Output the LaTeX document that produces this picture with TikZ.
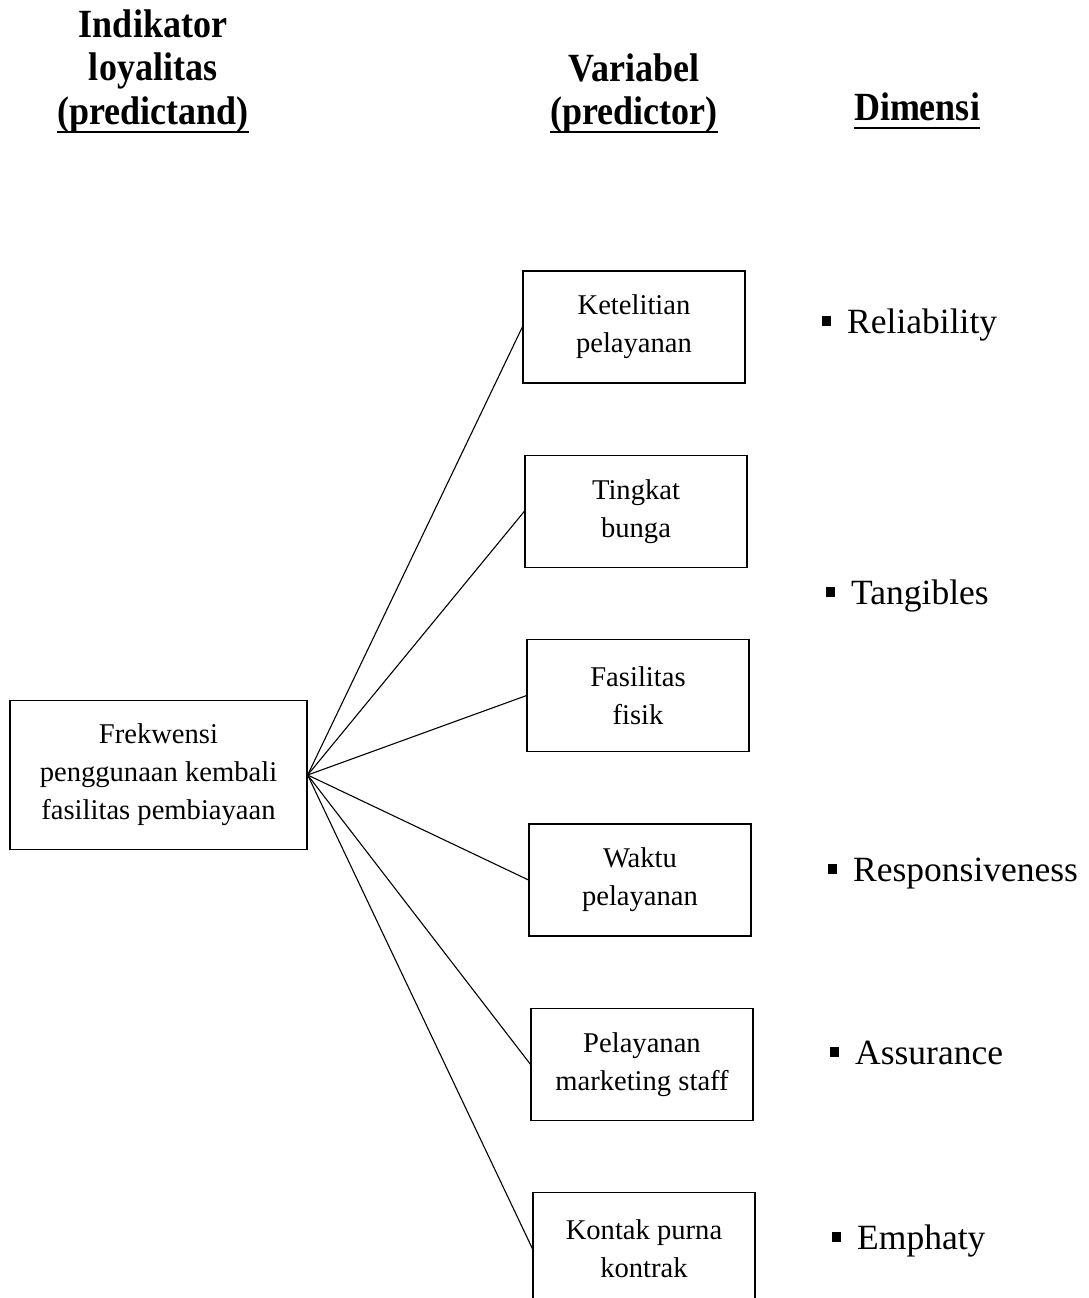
\documentclass[tikz,border=0pt]{standalone}
\usepackage{fontspec}
\setmainfont{Liberation Serif}
\newfontfamily\headfont[FakeStretch=0.9]{Liberation Serif}
\usetikzlibrary{positioning}
\newcommand{\dimbullet}{\rule[7pt]{9pt}{10pt}\hspace{16pt}}
\newcommand{\headul}[1]{\vtop{\hbox{\strut#1}\kern-6pt\hrule height 2.5pt}}
\tikzset{
  box/.style     = {rectangle, draw, line width=1.3pt, align=center, inner sep=2pt,
                    font=\fontsize{28.6}{38}\selectfont},
  varbox/.style  = {box, minimum width=222pt, minimum height=112pt},
  predbox/.style = {box, minimum width=297pt, minimum height=149pt},
  head/.style    = {align=center, inner sep=0pt,
                    font=\headfont\bfseries\fontsize{40}{43}\selectfont},
  dim/.style     = {anchor=base west, inner sep=0pt, font=\fontsize{35.5}{40}\selectfont},
  link/.style    = {line width=1.1pt},
}
\begin{document}
\begin{tikzpicture}[x=1pt, y=-1pt, node distance=71pt]
\useasboundingbox (0,0) rectangle (1088,1298);

% column heads
\node[head, anchor=base] (hpredictand) at (153,124) {Indikator\\loyalitas\\\headul{(predictand)}};
\node[head, anchor=base] (hpredictor) at (634,124) {Variabel\\\headul{(predictor)}};
\node[head, anchor=base] (hdimensi) at (917,120) {\headul{Dimensi}};

% predictand
\node[predbox] (frekwensi) at (158.5,775) {Frekwensi\\penggunaan kembali\\fasilitas pembiayaan};

% predictors
\node[varbox] (ketelitian) at (634,327) {Ketelitian\\pelayanan};
\node[varbox, below=of ketelitian, xshift=2pt] (tingkat) {Tingkat\\bunga};
\node[varbox, below=of tingkat, xshift=2pt] (fasilitas) {Fasilitas\\fisik};
\node[varbox, below=of fasilitas, xshift=2pt] (waktu) {Waktu\\pelayanan};
\node[varbox, below=of waktu, xshift=2pt] (pelayanan) {Pelayanan\\marketing staff};
\node[varbox, below=of pelayanan, xshift=2pt] (kontak) {Kontak purna\\kontrak};

% dimensions
\node[dim] (reliability) at (822,333) {\dimbullet Reliability};
\node[dim] (tangibles) at (826,604) {\dimbullet Tangibles};
\node[dim] (responsiveness) at (828,881) {\dimbullet Responsiveness};
\node[dim] (assurance) at (830,1064) {\dimbullet Assurance};
\node[dim] (emphaty) at (832,1249) {\dimbullet Emphaty};

\foreach \v in {ketelitian,tingkat,fasilitas,waktu,pelayanan,kontak}
  \draw[link] (frekwensi.east) -- (\v.west);

\end{tikzpicture}
\end{document}
